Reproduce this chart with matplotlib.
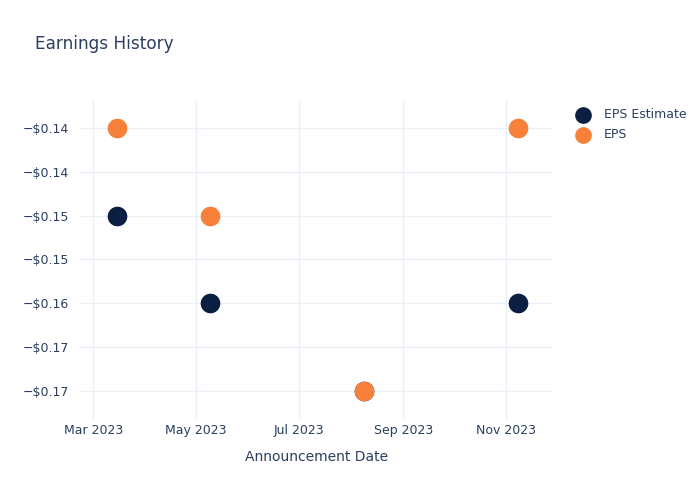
import numpy as np
import matplotlib.pyplot as plt
import matplotlib.dates as mdates
from matplotlib.ticker import FixedLocator, FixedFormatter

dates = np.array(['2023-03-15', '2023-05-09', '2023-08-09', '2023-11-08'], dtype='datetime64[D]')
eps_estimate = [-0.15, -0.16, -0.17, -0.16]
eps_actual = [-0.14, -0.15, -0.17, -0.14]
y_ticks = [-0.14, -0.145, -0.15, -0.155, -0.16, -0.165, -0.17]
y_labels = ['\u2212$0.14', '\u2212$0.14', '\u2212$0.15', '\u2212$0.15', '\u2212$0.16', '\u2212$0.17', '\u2212$0.17']

txt = '#2a3f5f'
grid = '#ebf0f8'

fig = plt.figure(figsize=(7, 5), dpi=100)
ax = fig.add_axes([80 / 700, 80 / 500, (553 - 80) / 700, (420 - 100) / 500])

ax.scatter(dates, eps_estimate, s=200, color='#0b1f42', label='EPS Estimate', zorder=3, linewidths=0)
ax.scatter(dates, eps_actual, s=200, color='#f7803a', label='EPS', zorder=4, linewidths=0)

ax.set_xlim(np.datetime64('2023-02-21'), np.datetime64('2023-11-29'))
ax.set_ylim(-0.17331, -0.13681)

ax.xaxis.set_major_locator(mdates.MonthLocator(bymonth=[3, 5, 7, 9, 11]))
ax.xaxis.set_major_formatter(mdates.DateFormatter('%b %Y'))
ax.yaxis.set_major_locator(FixedLocator(y_ticks))
ax.yaxis.set_major_formatter(FixedFormatter(y_labels))

for s in ax.spines.values():
    s.set_visible(False)
ax.grid(True, color=grid, linewidth=1)
ax.set_axisbelow(True)
ax.tick_params(length=0, labelsize=9, colors=txt)
ax.tick_params(axis='y', pad=8)
ax.tick_params(axis='x', pad=3)

ax.set_xlabel('Announcement Date', fontsize=10, color=txt, labelpad=9)
fig.text(35 / 700, 1 - 44 / 500, 'Earnings History', fontsize=12.2, color=txt, va='center')

leg = ax.legend(loc='upper left', bbox_to_anchor=(565 / 700, 1 - 103 / 500), bbox_transform=fig.transFigure,
                frameon=False, fontsize=9, labelcolor=txt, handletextpad=0.7, labelspacing=0.55,
                borderaxespad=0, markerscale=0.85)

fig.savefig('out.png')
